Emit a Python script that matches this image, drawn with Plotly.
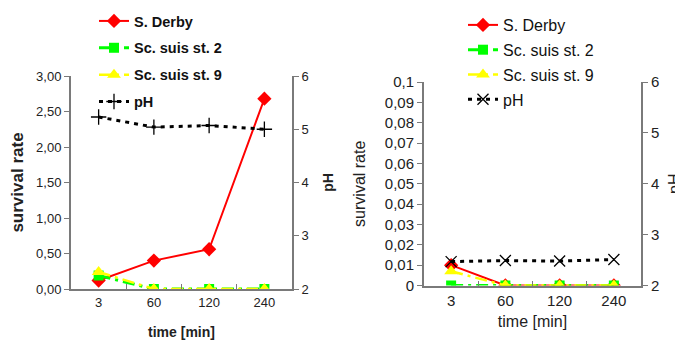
import plotly.graph_objects as go

time_labels = ["3", "60", "120", "240"]

# Left panel
derby_left = [0.12, 0.40, 0.56, 2.68]
suis2_left = [0.19, 0.0, 0.0, 0.0]
suis9_left = [0.24, 0.0, 0.0, 0.0]
ph_left = [5.23, 5.04, 5.07, 5.0]

# Right panel
derby_right = [0.010, 0.0, 0.0, 0.0]
suis2_right = [0.0, 0.0, 0.0, 0.0]
suis9_right = [0.007, 0.0, 0.0, 0.0]
ph_right = [2.47, 2.49, 2.48, 2.51]

left_ticks = [0, 0.5, 1.0, 1.5, 2.0, 2.5, 3.0]
left_tick_text = ["0,00", "0,50", "1,00", "1,50", "2,00", "2,50", "3,00"]
right_ticks = [0, 0.01, 0.02, 0.03, 0.04, 0.05, 0.06, 0.07, 0.08, 0.09, 0.1]
right_tick_text = ["0", "0,01", "0,02", "0,03", "0,04", "0,05", "0,06", "0,07", "0,08", "0,09", "0,1"]
ph_ticks = [2, 3, 4, 5, 6]
ph_tick_text = ["2", "3", "4", "5", "6"]

# page has an 8px body margin; figure placed at (8, 8)
OX, OY = 8, 8
W, H = 675, 332
FONT = "Liberation Sans, Arial, sans-serif"
AX = "#7a7a7a"
TXT = "#222222"


def px(x):
    return (x - OX) / W


def py(y):
    return 1 - (y - OY) / H


fig = go.Figure()


def add_panel(xa, ya, ya2, legend, derby, s2, s9, ph, ph_symbol):
    fig.add_trace(go.Scatter(x=time_labels, y=derby, name="S. Derby", mode="lines+markers",
                             line=dict(color="#ff0000", width=2),
                             marker=dict(symbol="diamond", size=11, color="#ff0000"),
                             xaxis=xa, yaxis=ya, legend=legend, legendgroup=legend + "a"))
    fig.add_trace(go.Scatter(x=time_labels, y=s2, name="Sc. suis st. 2", mode="lines+markers",
                             line=dict(color="#00ff00", width=3, dash="12px,5px,3px,5px"),
                             marker=dict(symbol="square", size=10, color="#00ff00"),
                             xaxis=xa, yaxis=ya, legend=legend, legendgroup=legend + "b"))
    fig.add_trace(go.Scatter(x=time_labels, y=s9, name="Sc. suis st. 9", mode="lines+markers",
                             line=dict(color="#ffff00", width=2.5, dash="12px,5px,3px,5px"),
                             marker=dict(symbol="triangle-up", size=12, color="#ffff00"),
                             xaxis=xa, yaxis=ya, legend=legend, legendgroup=legend + "c"))
    fig.add_trace(go.Scatter(x=time_labels, y=ph, name="pH", mode="lines+markers",
                             line=dict(color="#000000", width=3, dash="4px,5px"),
                             marker=dict(symbol=ph_symbol, size=11, color="#000000",
                                         line=dict(color="#000000", width=1.3)),
                             xaxis=xa, yaxis=ya2, legend=legend, legendgroup=legend + "d"))


add_panel("x", "y", "y2", "legend", derby_left, suis2_left, suis9_left, ph_left, "cross-thin")
add_panel("x2", "y3", "y4", "legend2", derby_right, suis2_right, suis9_right, ph_right, "x-thin")


def xaxis(domain, anchor, title, bold, size, tsize, standoff):
    return dict(domain=domain, anchor=anchor, type="category", showline=True, linecolor=AX, linewidth=2,
                ticks="inside", tickson="boundaries", ticklen=5, tickcolor=AX, showgrid=False, zeroline=False,
                range=[-0.5, 3.5], tickfont=dict(size=tsize, color=TXT), automargin=True,
                title=dict(text=("<b>%s</b>" % title) if bold else title, font=dict(size=size, color=TXT),
                           standoff=standoff))


def yaxis(domain, anchor, rng, tickvals, ticktext, title, bold, size, tsize, side="left",
          overlaying=None):
    d = dict(domain=domain, anchor=anchor, range=rng, showline=True, linecolor=AX, linewidth=2,
             ticks="outside", ticklen=5, tickcolor=AX, showgrid=False, zeroline=False, automargin=True,
             tickvals=tickvals, ticktext=ticktext, tickfont=dict(size=tsize, color=TXT), side=side,
             title=dict(text=("<b>%s</b>" % title) if bold else title, font=dict(size=size, color=TXT)))
    if overlaying:
        d["overlaying"] = overlaying
    return d


lx = [px(71), px(292)]
rx = [px(424), px(641)]
ly = [py(289), py(76)]
ry = [py(285.5), py(82)]

fig.update_layout(
    width=W, height=H, margin=dict(l=0, r=0, t=0, b=0, autoexpand=False),
    paper_bgcolor="white", plot_bgcolor="white",
    font=dict(family=FONT, color=TXT),
    xaxis=xaxis(lx, "y", "time [min]", True, 14, 13, 20),
    yaxis=yaxis(ly, "x", [0, 3], left_ticks, left_tick_text, "survival rate", True, 17, 13),
    yaxis2=yaxis(ly, "x", [2, 6], ph_ticks, ph_tick_text, "pH", True, 14, 13, side="right", overlaying="y"),
    xaxis2=xaxis(rx, "y3", "time [min]", False, 16, 15, 8),
    yaxis3=yaxis(ry, "x2", [0, 0.1], right_ticks, right_tick_text, "survival rate", False, 16, 15),
    yaxis4=yaxis(ry, "x2", [2, 6], ph_ticks, ph_tick_text, "pH", False, 16, 15, side="right", overlaying="y3"),
    legend=dict(x=px(94), y=py(5), xanchor="left", yanchor="top", bgcolor="rgba(0,0,0,0)",
                font=dict(size=14.5, family=FONT, weight="bold", color="#111"), tracegroupgap=5,
                traceorder="grouped", itemwidth=30),
    legend2=dict(x=px(463), y=py(8), xanchor="left", yanchor="top", bgcolor="rgba(0,0,0,0)",
                 font=dict(size=16, family=FONT, color="#111"), tracegroupgap=1, traceorder="grouped",
                 itemwidth=30),
)
fig.write_html("out.html")
